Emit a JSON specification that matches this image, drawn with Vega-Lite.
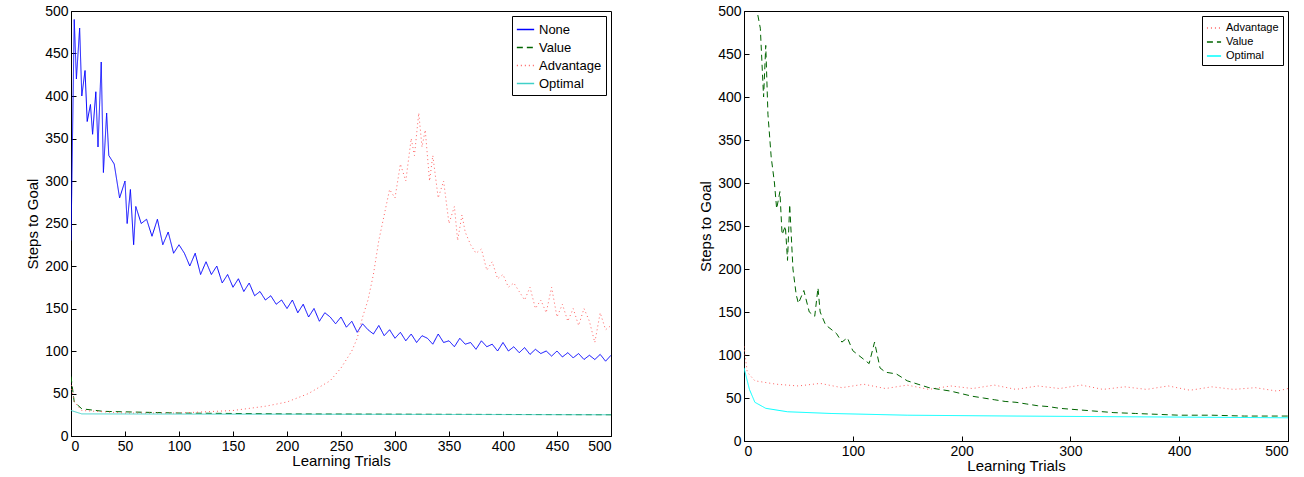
{
"$schema": "https://vega.github.io/schema/vega-lite/v6.json",
"background": "white",
"padding": {"left": 25, "top": 3, "right": 5, "bottom": 0},
"spacing": 86,
"config": {
  "font": "Liberation Sans",
  "view": {"stroke": "black", "strokeWidth": 1},
  "axis": {"grid": false, "domainColor": "black", "tickColor": "black", "tickSize": -5, "labelFontSize": 14, "titleFontSize": 15, "titleFontWeight": "normal", "labelColor": "black", "titleColor": "black", "labelPadding": 8},
  "legend": {"labelFontSize": 13, "symbolType": "stroke", "strokeColor": "black", "fillColor": "white", "padding": 4, "symbolSize": 300, "rowPadding": 1, "title": null}
},
"datasets": {
  "left": [
{"s":"None","t":0,"y":230},{"s":"None","t":3,"y":490},{"s":"None","t":5,"y":420},{"s":"None","t":8,"y":480},{"s":"None","t":10,"y":400},{"s":"None","t":13,"y":430},{"s":"None","t":15,"y":370},{"s":"None","t":18,"y":390},{"s":"None","t":20,"y":355},{"s":"None","t":23,"y":405},{"s":"None","t":25,"y":340},{"s":"None","t":28,"y":440},{"s":"None","t":30,"y":310},{"s":"None","t":33,"y":380},{"s":"None","t":35,"y":330},{"s":"None","t":40,"y":320},{"s":"None","t":45,"y":280},{"s":"None","t":50,"y":300},{"s":"None","t":52,"y":250},{"s":"None","t":55,"y":290},{"s":"None","t":58,"y":225},{"s":"None","t":60,"y":270},{"s":"None","t":65,"y":250},{"s":"None","t":70,"y":255},{"s":"None","t":75,"y":235},{"s":"None","t":80,"y":255},{"s":"None","t":85,"y":225},{"s":"None","t":90,"y":240},{"s":"None","t":95,"y":215},{"s":"None","t":100,"y":225},{"s":"None","t":105,"y":215},{"s":"None","t":110,"y":200},{"s":"None","t":115,"y":215},{"s":"None","t":120,"y":190},{"s":"None","t":125,"y":205},{"s":"None","t":130,"y":190},{"s":"None","t":135,"y":200},{"s":"None","t":140,"y":180},{"s":"None","t":145,"y":190},{"s":"None","t":150,"y":175},{"s":"None","t":155,"y":185},{"s":"None","t":160,"y":170},{"s":"None","t":165,"y":180},{"s":"None","t":170,"y":165},{"s":"None","t":175,"y":170},{"s":"None","t":180,"y":160},{"s":"None","t":185,"y":165},{"s":"None","t":190,"y":155},{"s":"None","t":195,"y":160},{"s":"None","t":200,"y":150},{"s":"None","t":205,"y":160},{"s":"None","t":210,"y":145},{"s":"None","t":215,"y":155},{"s":"None","t":220,"y":140},{"s":"None","t":225,"y":150},{"s":"None","t":230,"y":135},{"s":"None","t":235,"y":145},{"s":"None","t":240,"y":140},{"s":"None","t":245,"y":132},{"s":"None","t":250,"y":140},{"s":"None","t":255,"y":128},{"s":"None","t":260,"y":135},{"s":"None","t":265,"y":122},{"s":"None","t":270,"y":132},{"s":"None","t":275,"y":125},{"s":"None","t":280,"y":120},{"s":"None","t":285,"y":130},{"s":"None","t":290,"y":118},{"s":"None","t":295,"y":125},{"s":"None","t":300,"y":115},{"s":"None","t":305,"y":122},{"s":"None","t":310,"y":112},{"s":"None","t":315,"y":120},{"s":"None","t":320,"y":110},{"s":"None","t":325,"y":118},{"s":"None","t":330,"y":115},{"s":"None","t":335,"y":108},{"s":"None","t":340,"y":120},{"s":"None","t":345,"y":110},{"s":"None","t":350,"y":112},{"s":"None","t":355,"y":105},{"s":"None","t":360,"y":115},{"s":"None","t":365,"y":108},{"s":"None","t":370,"y":110},{"s":"None","t":375,"y":102},{"s":"None","t":380,"y":112},{"s":"None","t":385,"y":105},{"s":"None","t":390,"y":108},{"s":"None","t":395,"y":100},{"s":"None","t":400,"y":110},{"s":"None","t":405,"y":100},{"s":"None","t":410,"y":105},{"s":"None","t":415,"y":98},{"s":"None","t":420,"y":104},{"s":"None","t":425,"y":96},{"s":"None","t":430,"y":102},{"s":"None","t":435,"y":97},{"s":"None","t":440,"y":100},{"s":"None","t":445,"y":94},{"s":"None","t":450,"y":100},{"s":"None","t":455,"y":93},{"s":"None","t":460,"y":98},{"s":"None","t":465,"y":92},{"s":"None","t":470,"y":97},{"s":"None","t":475,"y":90},{"s":"None","t":480,"y":95},{"s":"None","t":485,"y":90},{"s":"None","t":490,"y":96},{"s":"None","t":495,"y":88},{"s":"None","t":500,"y":95},
{"s":"Value","t":0,"y":70},{"s":"Value","t":3,"y":40},{"s":"Value","t":10,"y":32},{"s":"Value","t":30,"y":29},{"s":"Value","t":100,"y":27},{"s":"Value","t":200,"y":26},{"s":"Value","t":500,"y":25},
{"s":"Advantage","t":0,"y":60},{"s":"Advantage","t":3,"y":40},{"s":"Advantage","t":10,"y":30},{"s":"Advantage","t":50,"y":27},{"s":"Advantage","t":100,"y":27},{"s":"Advantage","t":150,"y":30},{"s":"Advantage","t":180,"y":35},{"s":"Advantage","t":200,"y":40},{"s":"Advantage","t":220,"y":50},{"s":"Advantage","t":240,"y":65},{"s":"Advantage","t":250,"y":80},{"s":"Advantage","t":260,"y":100},{"s":"Advantage","t":265,"y":115},{"s":"Advantage","t":270,"y":140},{"s":"Advantage","t":275,"y":160},{"s":"Advantage","t":280,"y":190},{"s":"Advantage","t":285,"y":230},{"s":"Advantage","t":290,"y":260},{"s":"Advantage","t":295,"y":290},{"s":"Advantage","t":300,"y":280},{"s":"Advantage","t":305,"y":320},{"s":"Advantage","t":310,"y":300},{"s":"Advantage","t":315,"y":350},{"s":"Advantage","t":318,"y":330},{"s":"Advantage","t":322,"y":380},{"s":"Advantage","t":325,"y":340},{"s":"Advantage","t":328,"y":360},{"s":"Advantage","t":332,"y":300},{"s":"Advantage","t":335,"y":330},{"s":"Advantage","t":340,"y":280},{"s":"Advantage","t":345,"y":300},{"s":"Advantage","t":350,"y":250},{"s":"Advantage","t":355,"y":270},{"s":"Advantage","t":358,"y":230},{"s":"Advantage","t":362,"y":260},{"s":"Advantage","t":365,"y":240},{"s":"Advantage","t":370,"y":225},{"s":"Advantage","t":375,"y":215},{"s":"Advantage","t":380,"y":220},{"s":"Advantage","t":385,"y":195},{"s":"Advantage","t":390,"y":205},{"s":"Advantage","t":395,"y":185},{"s":"Advantage","t":400,"y":190},{"s":"Advantage","t":405,"y":175},{"s":"Advantage","t":410,"y":180},{"s":"Advantage","t":415,"y":170},{"s":"Advantage","t":420,"y":160},{"s":"Advantage","t":425,"y":175},{"s":"Advantage","t":430,"y":150},{"s":"Advantage","t":435,"y":160},{"s":"Advantage","t":440,"y":145},{"s":"Advantage","t":445,"y":175},{"s":"Advantage","t":450,"y":140},{"s":"Advantage","t":455,"y":155},{"s":"Advantage","t":460,"y":135},{"s":"Advantage","t":465,"y":150},{"s":"Advantage","t":470,"y":130},{"s":"Advantage","t":475,"y":150},{"s":"Advantage","t":480,"y":135},{"s":"Advantage","t":485,"y":110},{"s":"Advantage","t":490,"y":145},{"s":"Advantage","t":495,"y":125},{"s":"Advantage","t":500,"y":130},
{"s":"Optimal","t":0,"y":30},{"s":"Optimal","t":10,"y":26},{"s":"Optimal","t":500,"y":25}
  ],
  "right": [
{"s":"Advantage","t":0,"y":110},{"s":"Advantage","t":3,"y":80},{"s":"Advantage","t":10,"y":70},{"s":"Advantage","t":30,"y":66},{"s":"Advantage","t":50,"y":64},{"s":"Advantage","t":70,"y":67},{"s":"Advantage","t":90,"y":62},{"s":"Advantage","t":110,"y":66},{"s":"Advantage","t":130,"y":61},{"s":"Advantage","t":150,"y":65},{"s":"Advantage","t":170,"y":60},{"s":"Advantage","t":190,"y":64},{"s":"Advantage","t":210,"y":61},{"s":"Advantage","t":230,"y":65},{"s":"Advantage","t":250,"y":60},{"s":"Advantage","t":270,"y":64},{"s":"Advantage","t":290,"y":61},{"s":"Advantage","t":310,"y":65},{"s":"Advantage","t":330,"y":60},{"s":"Advantage","t":350,"y":63},{"s":"Advantage","t":370,"y":60},{"s":"Advantage","t":390,"y":64},{"s":"Advantage","t":410,"y":59},{"s":"Advantage","t":430,"y":63},{"s":"Advantage","t":450,"y":60},{"s":"Advantage","t":470,"y":62},{"s":"Advantage","t":490,"y":58},{"s":"Advantage","t":500,"y":61},
{"s":"Value","t":10,"y":530},{"s":"Value","t":12,"y":500},{"s":"Value","t":15,"y":480},{"s":"Value","t":18,"y":400},{"s":"Value","t":20,"y":460},{"s":"Value","t":22,"y":380},{"s":"Value","t":25,"y":330},{"s":"Value","t":28,"y":300},{"s":"Value","t":30,"y":270},{"s":"Value","t":33,"y":290},{"s":"Value","t":35,"y":240},{"s":"Value","t":38,"y":250},{"s":"Value","t":40,"y":210},{"s":"Value","t":42,"y":275},{"s":"Value","t":45,"y":200},{"s":"Value","t":48,"y":170},{"s":"Value","t":50,"y":160},{"s":"Value","t":55,"y":175},{"s":"Value","t":60,"y":150},{"s":"Value","t":65,"y":145},{"s":"Value","t":68,"y":178},{"s":"Value","t":70,"y":150},{"s":"Value","t":75,"y":135},{"s":"Value","t":80,"y":130},{"s":"Value","t":85,"y":125},{"s":"Value","t":90,"y":115},{"s":"Value","t":95,"y":120},{"s":"Value","t":100,"y":105},{"s":"Value","t":105,"y":100},{"s":"Value","t":110,"y":95},{"s":"Value","t":115,"y":90},{"s":"Value","t":120,"y":115},{"s":"Value","t":125,"y":85},{"s":"Value","t":130,"y":80},{"s":"Value","t":140,"y":78},{"s":"Value","t":150,"y":70},{"s":"Value","t":160,"y":66},{"s":"Value","t":170,"y":62},{"s":"Value","t":180,"y":60},{"s":"Value","t":190,"y":58},{"s":"Value","t":200,"y":55},{"s":"Value","t":210,"y":52},{"s":"Value","t":220,"y":50},{"s":"Value","t":230,"y":48},{"s":"Value","t":240,"y":46},{"s":"Value","t":250,"y":45},{"s":"Value","t":260,"y":43},{"s":"Value","t":270,"y":41},{"s":"Value","t":280,"y":40},{"s":"Value","t":290,"y":38},{"s":"Value","t":300,"y":37},{"s":"Value","t":320,"y":35},{"s":"Value","t":340,"y":33},{"s":"Value","t":360,"y":32},{"s":"Value","t":380,"y":31},{"s":"Value","t":400,"y":30},{"s":"Value","t":430,"y":30},{"s":"Value","t":460,"y":29},{"s":"Value","t":500,"y":29},
{"s":"Optimal","t":0,"y":85},{"s":"Optimal","t":5,"y":60},{"s":"Optimal","t":10,"y":45},{"s":"Optimal","t":20,"y":38},{"s":"Optimal","t":40,"y":34},{"s":"Optimal","t":80,"y":32},{"s":"Optimal","t":150,"y":30},{"s":"Optimal","t":250,"y":29},{"s":"Optimal","t":500,"y":27}
  ]
},
"resolve": {"scale": {"color": "independent", "strokeDash": "independent"}, "legend": {"color": "independent", "strokeDash": "independent"}},
"hconcat": [
  {
    "width": 540, "height": 425,
    "data": {"name": "left"},
    "mark": {"type": "line", "strokeWidth": 1, "clip": true},
    "encoding": {
      "x": {"field": "t", "type": "quantitative", "title": "Learning Trials", "scale": {"domain": [0, 500], "nice": false}, "axis": {"values": [0,50,100,150,200,250,300,350,400,450,500], "titlePadding": 0}},
      "y": {"field": "y", "type": "quantitative", "title": "Steps to Goal", "scale": {"domain": [0, 500], "nice": false}, "axis": {"values": [0,50,100,150,200,250,300,350,400,450,500]}},
      "detail": {"field": "s"},
      "order": {"field": "t", "type": "quantitative"},
      "color": {"field": "s", "type": "nominal", "scale": {"domain": ["None","Value","Advantage","Optimal"], "range": ["#0000ff","#006400","#ff6060","#40d0c8"]}, "legend": {"orient": "top-right", "offset": 5}},
      "strokeDash": {"field": "s", "type": "nominal", "scale": {"domain": ["None","Value","Advantage","Optimal"], "range": [[1,0],[6,4],[1,3],[1,0]]}, "legend": {"orient": "top-right", "offset": 5}}
    }
  },
  {
    "width": 544, "height": 430,
    "data": {"name": "right"},
    "mark": {"type": "line", "strokeWidth": 1, "clip": true},
    "encoding": {
      "x": {"field": "t", "type": "quantitative", "title": "Learning Trials", "scale": {"domain": [0, 500], "nice": false}, "axis": {"values": [0,100,200,300,400,500], "titlePadding": 0}},
      "y": {"field": "y", "type": "quantitative", "title": "Steps to Goal", "scale": {"domain": [0, 500], "nice": false}, "axis": {"values": [0,50,100,150,200,250,300,350,400,450,500]}},
      "detail": {"field": "s"},
      "order": {"field": "t", "type": "quantitative"},
      "color": {"field": "s", "type": "nominal", "scale": {"domain": ["Advantage","Value","Optimal"], "range": ["#ff6060","#006400","#00ffff"]}, "legend": {"orient": "top-right", "offset": 5, "labelFontSize": 11, "symbolSize": 200}},
      "strokeDash": {"field": "s", "type": "nominal", "scale": {"domain": ["Advantage","Value","Optimal"], "range": [[1,3],[6,4],[1,0]]}, "legend": {"orient": "top-right", "offset": 5, "labelFontSize": 11, "symbolSize": 200}}
    }
  }
]
}
